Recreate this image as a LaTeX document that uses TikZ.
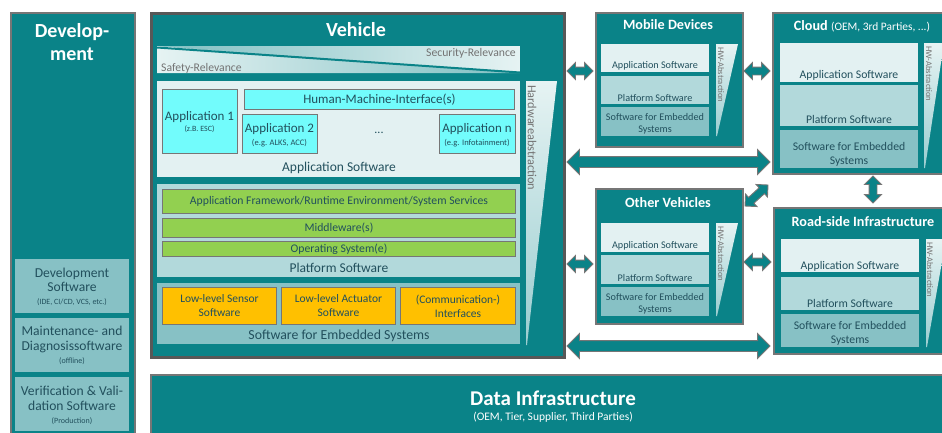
\documentclass[tikz,border=0pt]{standalone}
\usepackage{fontspec}
\setmainfont{Carlito}
\usetikzlibrary{shapes.arrows,calc}
\definecolor{tealmain}{HTML}{0A8388}
\definecolor{boxgray}{HTML}{767676}
\definecolor{vehgray}{HTML}{585858}
\definecolor{panA}{HTML}{E3F1F2}
\definecolor{panB}{HTML}{B2D9DB}
\definecolor{panC}{HTML}{87C1C5}
\definecolor{hwtop}{HTML}{E6F3F3}
\definecolor{hwbot}{HTML}{9ACDD0}
\definecolor{bandmid}{HTML}{7FBFC2}
\definecolor{cyanbox}{HTML}{72FCFC}
\definecolor{greenbox}{HTML}{92D050}
\definecolor{orangebox}{HTML}{FFC000}
\definecolor{txtdark}{HTML}{22505D}
\definecolor{txtgray}{HTML}{737373}
\newcommand\fsz[2]{\fontsize{#1}{#2}\selectfont}
\newcommand\fatarrow[3][small]{%
  \path let \p1=(#2), \p2=(#3), \n1={veclen(\x2-\x1,\y2-\y1)}, \n2={atan2(\y2-\y1,\x2-\x1)} in
    node[#1arrow, minimum height=\n1, rotate=\n2] at ($(\p1)!0.5!(\p2)$) {};}
\begin{document}
\begin{tikzpicture}[x=1pt,y=-1pt,
  bigbox/.style={draw=boxgray, line width=1.5pt, fill=tealmain, inner sep=0pt, anchor=north west},
  panel/.style={inner sep=0pt, anchor=north west},
  cbox/.style={draw=boxgray, line width=1pt, inner sep=0pt, anchor=north west},
  lbl/.style={inner sep=0pt, text=txtdark, align=center},
  title/.style={inner sep=0pt, text=white, align=center, font=\bfseries},
  hwtxt/.style={inner sep=0pt, text=txtgray, rotate=-90, anchor=west},
  smallarrow/.style={double arrow, draw=boxgray, line width=0.9pt, fill=tealmain,
    inner xsep=0pt, inner ysep=3.5pt, minimum width=0pt, double arrow head extend=4.5pt, double arrow tip angle=90},
  bigarrow/.style={double arrow, draw=boxgray, line width=0.9pt, fill=tealmain,
    inner xsep=0pt, inner ysep=5pt, minimum width=0pt, double arrow head extend=7pt, double arrow tip angle=90}]
\useasboundingbox[fill=white] (0,0) rectangle (942,432);

% ---------------- Development ----------------
\node[bigbox, minimum width=124, minimum height=430] (dev) at (10,12) {};
\node[title, font=\fsz{20}{23}\bfseries] at (72,42) {Develop-\\ment};
\node[panel, fill=panC, minimum width=114, minimum height=54] (devsw) at (15,259) {};
\node[panel, fill=panC, minimum width=114, minimum height=54] (maint) at (15,318) {};
\node[panel, fill=panC, minimum width=114, minimum height=54] (verif) at (15,377) {};
\node[lbl, font=\fsz{13.6}{14.5}] at (72,280) {Development\\Software};
\node[lbl, font=\fsz{8}{9}] at (72,302) {(IDE, CI/CD, VCS, etc.)};
\node[lbl, font=\fsz{13.6}{15}] at (72,339.5) {Maintenance- and\\Diagnosissoftware};
\node[lbl, font=\fsz{8}{9}] at (72,361) {(offline)};
\node[lbl, font=\fsz{13.6}{15}] at (72,398.5) {Verification \& Vali-\\dation Software};
\node[lbl, font=\fsz{8}{9}] at (72,421) {(Production)};

% ---------------- Vehicle ----------------
\node[draw=vehgray, line width=3pt, fill=tealmain, inner sep=0pt, anchor=north west,
  minimum width=413, minimum height=344] (veh) at (150,12) {};
\node[title, font=\fsz{20}{22}\bfseries] at (356,30) {Vehicle};
% relevance band
\shade[left color=bandmid, right color=hwtop] (157,46) -- (520,46) -- (520,73) -- cycle;
\shade[left color=hwtop, right color=bandmid] (157,46) -- (157,73) -- (520,73) -- cycle;
\draw[tealmain, line width=2pt] (157,47.5) -- (520,72.5);
\node[inner sep=0pt, text=txtgray, font=\fsz{11.7}{13}, anchor=east] at (516,53) {Security-Relevance};
\node[inner sep=0pt, text=txtgray, font=\fsz{11.7}{13}, anchor=west] at (161,68) {Safety-Relevance};
% panels
\node[panel, fill=panA, minimum width=363, minimum height=96] (appsw) at (157,81) {};
\node[panel, fill=panB, minimum width=363, minimum height=93] (platsw) at (157,184) {};
\node[panel, fill=panC, minimum width=363, minimum height=61] (embsw) at (157,283) {};
% hardware abstraction
\shade[top color=hwtop, bottom color=hwbot] (526,81) -- (557,81) -- (527,345) -- (526,345) -- cycle;
\node[hwtxt, font=\fsz{12.3}{13}] at (532,85) {Hardwareabstraction};
% application boxes
\node[cbox, fill=cyanbox, minimum width=75, minimum height=64] (app1) at (162,89) {};
\node[cbox, fill=cyanbox, minimum width=270, minimum height=20] (hmi) at (244,89) {};
\node[cbox, fill=cyanbox, minimum width=75, minimum height=39] (app2) at (242,114) {};
\node[cbox, fill=cyanbox, minimum width=76, minimum height=39] (appn) at (439,114) {};
\node[lbl, font=\fsz{13}{14}] at (199.5,117) {Application 1};
\node[lbl, font=\fsz{8}{9}] at (199.5,129) {(z.B. ESC)};
\node[lbl, font=\fsz{13}{14}] at (hmi.center) {Human-Machine-Interface(s)};
\node[lbl, font=\fsz{13}{14}] at (279.5,129) {Application 2};
\node[lbl, font=\fsz{8.5}{9}] at (279.5,143) {(e.g. ALKS, ACC)};
\node[lbl, font=\fsz{12}{13}] at (379,133) {...};
\node[lbl, font=\fsz{13}{14}] at (477,129) {Application n};
\node[lbl, font=\fsz{8.5}{9}] at (477,143) {(e.g. Infotainment)};
\node[lbl, font=\fsz{13.5}{15}] at (339,168) {Application Software};
% platform boxes
\node[cbox, fill=greenbox, minimum width=353, minimum height=24] (afw) at (162,189) {};
\node[cbox, fill=greenbox, minimum width=353, minimum height=19] (mw) at (162,218) {};
\node[cbox, fill=greenbox, minimum width=353, minimum height=15] (os) at (162,241) {};
\node[lbl, font=\fsz{11.7}{13}] at (afw.center) {Application Framework/Runtime Environment/System Services};
\node[lbl, font=\fsz{11.7}{13}] at (mw.center) {Middleware(s)};
\node[lbl, font=\fsz{11.7}{13}] at (os.center) {Operating System(e)};
\node[lbl, font=\fsz{13.5}{15}] at (339,268) {Platform Software};
% embedded boxes
\node[cbox, fill=orangebox, minimum width=114, minimum height=37] (sens) at (162,287) {};
\node[cbox, fill=orangebox, minimum width=114, minimum height=37] (act) at (281,287) {};
\node[cbox, fill=orangebox, minimum width=115, minimum height=37] (comm) at (400,287) {};
\node[lbl, font=\fsz{11.5}{14}] at (sens.center) {Low-level Sensor\\Software};
\node[lbl, font=\fsz{11.5}{14}] at (act.center) {Low-level Actuator\\Software};
\node[lbl, font=\fsz{11.5}{14}] at (comm.center) {(Communication-)\\Interfaces};
\node[lbl, font=\fsz{13.8}{15}] at (339,336) {Software for Embedded Systems};

% ---------------- Mobile Devices ----------------
\node[bigbox, minimum width=147, minimum height=134] (mob) at (595,12) {};
\node[title, font=\fsz{14.2}{15}\bfseries] at (668,25) {Mobile Devices};
\node[panel, fill=panA, minimum width=108, minimum height=28] at (601,44) {};
\node[panel, fill=panB, minimum width=108, minimum height=28] at (601,76) {};
\node[panel, fill=panC, minimum width=108, minimum height=29] at (601,107) {};
\shade[top color=hwtop, bottom color=hwbot] (716,44) -- (738,44) -- (717,136) -- (716,136) -- cycle;
\node[hwtxt, font=\fsz{8.6}{9}] at (721,47) {HW-Abstraction};
\node[lbl, font=\fsz{10.2}{11}] at (655,66) {Application Software};
\node[lbl, font=\fsz{10.2}{11}] at (655,98) {Platform Software};
\node[lbl, font=\fsz{10.2}{12}] at (655,124) {Software for Embedded\\Systems};

% ---------------- Other Vehicles ----------------
\node[bigbox, minimum width=147, minimum height=135] (oth) at (595,188) {};
\node[title, font=\fsz{14.2}{15}\bfseries] at (668,203) {Other Vehicles};
\node[panel, fill=panA, minimum width=108, minimum height=29] at (601,223) {};
\node[panel, fill=panB, minimum width=108, minimum height=29] at (601,255) {};
\node[panel, fill=panC, minimum width=108, minimum height=29] at (601,287) {};
\shade[top color=hwtop, bottom color=hwbot] (716,223) -- (738,223) -- (717,316) -- (716,316) -- cycle;
\node[hwtxt, font=\fsz{8.6}{9}] at (721,226) {HW-Abstraction};
\node[lbl, font=\fsz{10.2}{11}] at (655,246) {Application Software};
\node[lbl, font=\fsz{10.2}{11}] at (655,278) {Platform Software};
\node[lbl, font=\fsz{10.2}{12}] at (655,304) {Software for Embedded\\Systems};

% ---------------- Cloud ----------------
\node[bigbox, minimum width=173, minimum height=161] (cloud) at (772,12) {};
\node[title, font=\fsz{14.2}{15}\bfseries] at (862,26) {Cloud {\mdseries\fsz{11.4}{12}(OEM, 3rd Parties, ...)}};
\node[panel, fill=panA, minimum width=138, minimum height=39] at (780,43) {};
\node[panel, fill=panB, minimum width=138, minimum height=41] at (780,85) {};
\node[panel, fill=panC, minimum width=138, minimum height=38] at (780,130) {};
\shade[top color=hwtop, bottom color=hwbot] (924,43) -- (944,43) -- (925,168) -- (924,168) -- cycle;
\node[hwtxt, font=\fsz{8.6}{9}] at (929,46) {HW-Abstraction};
\node[lbl, font=\fsz{11.7}{13}] at (849,75) {Application Software};
\node[lbl, font=\fsz{11.7}{13}] at (849,119) {Platform Software};
\node[lbl, font=\fsz{11.7}{14}] at (849,154) {Software for Embedded\\Systems};

% ---------------- Road-side Infrastructure ----------------
\node[bigbox, minimum width=172, minimum height=146] (road) at (773,207) {};
\node[title, font=\fsz{14.2}{15}\bfseries] at (863,222) {Road-side Infrastructure};
\node[panel, fill=panA, minimum width=138, minimum height=33] at (781,239) {};
\node[panel, fill=panB, minimum width=138, minimum height=33] at (781,277) {};
\node[panel, fill=panC, minimum width=138, minimum height=33] at (781,314) {};
\shade[top color=hwtop, bottom color=hwbot] (926,239) -- (946,239) -- (927,347) -- (926,347) -- cycle;
\node[hwtxt, font=\fsz{8.6}{9}] at (930,242) {HW-Abstraction};
\node[lbl, font=\fsz{11.7}{13}] at (850,266) {Application Software};
\node[lbl, font=\fsz{11.7}{13}] at (850,303) {Platform Software};
\node[lbl, font=\fsz{11.7}{14}] at (850,333.5) {Software for Embedded\\Systems};

% ---------------- Data Infrastructure ----------------
\node[bigbox, minimum width=795, minimum height=66] (data) at (150,374) {};
\node[title, font=\fsz{21}{23}\bfseries] at (553,398) {Data Infrastructure};
\node[inner sep=0pt, text=white, font=\fsz{11.5}{13}] at (553,417) {(OEM, Tier, Supplier, Third Parties)};

% ---------------- Arrows ----------------
\coordinate (a1s) at (567,71);  \coordinate (a1e) at (593,71);
\coordinate (a2s) at (744,71);  \coordinate (a2e) at (770,71);
\coordinate (a3s) at (567,162); \coordinate (a3e) at (770,162);
\coordinate (a4s) at (567,264); \coordinate (a4e) at (593,264);
\coordinate (a5s) at (744,262); \coordinate (a5e) at (771,262);
\coordinate (a6s) at (873,176); \coordinate (a6e) at (873,203);
\coordinate (a7s) at (745,206); \coordinate (a7e) at (768,185);
\coordinate (a8s) at (567,346); \coordinate (a8e) at (770,346);
\fatarrow{a1s}{a1e}
\fatarrow{a2s}{a2e}
\fatarrow[big]{a3s}{a3e}
\fatarrow{a4s}{a4e}
\fatarrow{a5s}{a5e}
\fatarrow{a6s}{a6e}
\fatarrow{a7s}{a7e}
\fatarrow[big]{a8s}{a8e}
\end{tikzpicture}
\end{document}
